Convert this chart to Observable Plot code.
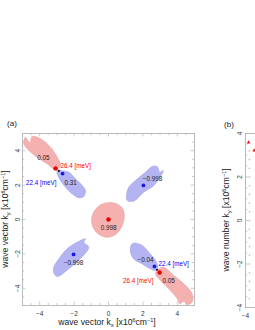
<!DOCTYPE html>
<html><head><meta charset="utf-8">
<script src="https://cdn.jsdelivr.net/npm/d3@7"></script>
<script src="https://cdn.jsdelivr.net/npm/@observablehq/plot@0.6"></script>
<style>
html,body{margin:0;padding:0;background:#fff;overflow:hidden}
#wrap{position:relative;width:255px;height:330px;overflow:hidden;font-family:"Liberation Sans",Arial,sans-serif}
#a{position:absolute;left:0;top:0;width:200px}
#b{position:absolute;left:200px;top:0;width:230px}
#wrap svg{max-width:none !important;display:block}
</style></head><body><div id="wrap"><div id="a"></div><div id="b"></div></div>
<script>
// ---------- data ----------
const majorTicksA = [-4, -2, 0, 2, 4];
const minorTicksA = [-4.5, -3.5, -3, -2.5, -1.5, -1, -0.5, 0.5, 1, 1.5, 2.5, 3, 3.5, 4.5];
const majorTicksB = [-4, -2, 0, 2, 4];
const minorTicksB = [-3.5, -3, -2.5, -1.5, -1, -0.5, 0.5, 1, 1.5, 2.5, 3, 3.5];

// blob outlines [kx, ky]
const blobCenterRed = [[0.0,0.98],[0.45,0.92],[0.82,0.64],[0.92,0.2],[0.82,-0.3],[0.57,-0.72],[0.2,-0.98],[-0.2,-1.02],[-0.62,-0.82],[-0.92,-0.4],[-0.97,0.1],[-0.77,0.57],[-0.4,0.88]];
const blobNEBlue = [[1.09,1.1],[1.47,1.07],[2.05,1.59],[2.64,1.98],[2.93,2.37],[3.12,2.66],[3.18,2.85],[2.98,2.75],[2.83,3.08],[2.54,3.08],[2.15,2.75],[1.57,2.27],[1.18,1.88],[1.05,1.4]];
const blobSWBlue = [[-1.34,-1.12],[-1.44,-1.32],[-1.15,-1.61],[-1.63,-2.27],[-2.2,-2.77],[-2.98,-3.31],[-3.18,-3.1],[-3.18,-2.77],[-2.89,-2.29],[-2.4,-1.7],[-1.82,-1.32]];
const blobULRed = [[-4.92,4.59],[-4.83,4.78],[-4.57,4.46],[-4.44,4.83],[-3.95,4.69],[-3.37,4.2],[-2.98,3.62],[-2.79,3.14],[-3.08,2.9],[-3.57,3.24],[-4.15,3.62],[-4.73,4.11],[-4.92,4.4]];
const blobULBlue = [[-2.98,2.95],[-2.79,2.85],[-2.31,2.75],[-1.92,2.37],[-1.53,1.98],[-1.34,1.69],[-1.44,1.34],[-1.73,1.26],[-2.11,1.49],[-2.5,1.88],[-2.79,2.27],[-2.98,2.66]];
const blobLRBlue = [[1.38,-1.41],[1.57,-1.38],[1.96,-1.51],[2.34,-1.9],[2.73,-2.38],[2.87,-2.77],[2.73,-2.97],[2.44,-2.87],[1.96,-2.58],[1.47,-2.29],[1.28,-1.9],[1.28,-1.61]];
const blobLRRed = [[2.93,-2.87],[3.22,-2.77],[3.8,-3.26],[4.38,-3.74],[4.86,-4.32],[4.86,-4.81],[4.57,-4.94],[4.38,-4.75],[4.15,-4.9],[4.0,-4.61],[3.51,-4.03],[3.02,-3.55],[2.73,-3.16]];

const redDots = [[0,0],[-3.08,2.97],[2.97,-3.08]];
const blueDots = [[2.03,1.98],[-2.03,-2.03],[-2.67,2.67],[2.67,-2.73]];
const blackDots = [[-2.88,2.82],[2.82,-2.92]];

const numLabelText = ["0.998","\u22120.998","\u22120.998","0.05","0.31","\u22120.04","0.05"];
const numLabelX = [0, 2.56, -2.03, -3.78, -2.2, 2.15, 3.49];
const numLabelY = [-0.47, 2.33, -2.5, 3.55, 2.1, -2.38, -3.6];

const energyText = ["26.4 [meV]","22.4 [meV]","22.4 [meV]","26.4 [meV]"];
const energyX = [-2.79, -3.02, 2.9, 2.62];
const energyY = [3.14, 2.15, -2.56, -3.6];
const energyColor = ["red","blue","blue","red"];
const energyAnchor = ["start","end","start","end"];

// panel (b) points
const bRedX = [-3.86, -3.6];
const bRedY = [3.59, 3.22];
const bPinkX = [-3.82,-3.82,-3.82,-3.82,-3.82,-3.82,-3.82,-3.82,-3.82,-3.82,-3.82,-3.82,-3.82,-3.82,-3.82,-3.82,-3.82,-3.82];
const bPinkY = [3.2,2.8,2.4,2.0,1.6,1.2,0.8,0.4,0.0,-0.4,-0.8,-1.2,-1.6,-2.0,-2.4,-2.8,-3.2,-3.6];

// ---------- helpers ----------
const fmt = d => String(d).replace("-", "\u2212");
const FONT = '"Liberation Sans",Arial,sans-serif';
const redFill = "#f5b0b0", redStroke = "#eba0a0";
const blueFill = "#b4b4f2", blueStroke = "#a0a0e8";
const frameC = "#b4b4b4";

function blob(pts, fill, stroke) {
  return Plot.line(pts, {x: d => d[0], y: d => d[1], fill, stroke, strokeWidth: 0.6, curve: "catmull-rom-closed"});
}
function frameTicks(majors, minors, lo, hi, majLen, minLen) {
  const marks = [];
  for (const [arr, len] of [[majors, majLen], [minors, minLen]]) {
    marks.push(Plot.ruleX(arr, {x: d => d, y1: lo, y2: lo + len, stroke: frameC, strokeWidth: 0.7}));
    marks.push(Plot.ruleX(arr, {x: d => d, y1: hi, y2: hi - len, stroke: frameC, strokeWidth: 0.7}));
    marks.push(Plot.ruleY(arr, {y: d => d, x1: lo, x2: lo + len, stroke: frameC, strokeWidth: 0.7}));
    marks.push(Plot.ruleY(arr, {y: d => d, x1: hi, x2: hi - len, stroke: frameC, strokeWidth: 0.7}));
  }
  return marks;
}
function axisTitle(svg, x, y, rotate, prefix, sub) {
  const t = d3.select(svg).append("text")
    .attr("transform", `translate(${x},${y}) rotate(${rotate})`)
    .attr("text-anchor", "middle").attr("font-size", 8.6).attr("fill", "#222")
    .attr("font-family", FONT);
  t.append("tspan").text(prefix + "k");
  t.append("tspan").attr("font-size", 6).attr("dy", 2).text(sub);
  t.append("tspan").attr("dy", -2).text(" [x10");
  t.append("tspan").attr("font-size", 5.5).attr("dy", -3.5).text("6");
  t.append("tspan").attr("dy", 3.5).text("cm");
  t.append("tspan").attr("font-size", 5.5).attr("dy", -3.5).text("\u22121");
  t.append("tspan").attr("dy", 3.5).text("]");
}

// ---------- panel (a) ----------
const pa = Plot.plot({
  width: 200, height: 330,
  marginLeft: 22, marginRight: 6, marginTop: 133, marginBottom: 25,
  x: {domain: [-5, 5], axis: null},
  y: {domain: [-5, 5], axis: null},
  style: {fontFamily: FONT, background: "white"},
  marks: [
    blob(blobCenterRed, redFill, redStroke),
    blob(blobNEBlue, blueFill, blueStroke),
    blob(blobSWBlue, blueFill, blueStroke),
    blob(blobULRed, redFill, redStroke),
    blob(blobULBlue, blueFill, blueStroke),
    blob(blobLRBlue, blueFill, blueStroke),
    blob(blobLRRed, redFill, redStroke),
    Plot.frame({stroke: frameC, strokeWidth: 0.9}),
    ...frameTicks(majorTicksA, minorTicksA, -5, 5, 0.2, 0.12),
    Plot.text(majorTicksA, {x: d => d, y: -5, text: fmt, dy: 8, fontSize: 6.5, fill: "#333"}),
    Plot.text(majorTicksA, {x: -5, y: d => d, text: fmt, dx: -5, rotate: -90, fontSize: 6.5, fill: "#333"}),
    Plot.dot(redDots, {x: d => d[0], y: d => d[1], r: 2.2, fill: "#e60000"}),
    Plot.dot(blueDots, {x: d => d[0], y: d => d[1], r: 1.9, fill: "#1a1ae6"}),
    Plot.dot(blackDots, {x: d => d[0], y: d => d[1], r: 1, fill: "#000"}),
    Plot.text(numLabelText, {x: (d, i) => numLabelX[i], y: (d, i) => numLabelY[i], text: d => d, fontSize: 6.3, fill: "#222"}),
    Plot.text(energyText, {x: (d, i) => energyX[i], y: (d, i) => energyY[i], text: d => d, fontSize: 6.3,
      fill: (d, i) => energyColor[i], textAnchor: "start", filter: (d, i) => energyAnchor[i] === "start"}),
    Plot.text(energyText, {x: (d, i) => energyX[i], y: (d, i) => energyY[i], text: d => d, fontSize: 6.3,
      fill: (d, i) => energyColor[i], textAnchor: "end", filter: (d, i) => energyAnchor[i] === "end"})
  ]
});
document.getElementById("a").appendChild(pa);
axisTitle(pa, 107, 325, 0, "wave vector ", "x");
axisTitle(pa, 8, 219, -90, "wave vector ", "y");
d3.select(pa).append("text").attr("x", 12).attr("y", 126).attr("text-anchor", "middle")
  .attr("font-size", 8).attr("font-family", FONT).attr("fill", "#222").text("(a)");

// ---------- panel (b) ----------
const pb = Plot.plot({
  width: 230, height: 330,
  marginLeft: 45, marginRight: 10, marginTop: 133, marginBottom: 23,
  x: {domain: [-4, 4], axis: null},
  y: {domain: [-4, 4], axis: null},
  style: {fontFamily: FONT, background: "white"},
  marks: [
    Plot.frame({stroke: frameC, strokeWidth: 0.9}),
    ...frameTicks(majorTicksB, minorTicksB, -4, 4, 0.16, 0.1),
    Plot.text(majorTicksB.slice(0, 1), {x: d => d, y: -4, text: fmt, dy: 8, fontSize: 6.5, fill: "#333"}),
    Plot.text(majorTicksB, {x: -4, y: d => d, text: fmt, dx: -6, rotate: -90, fontSize: 6.5, fill: "#333"}),
    Plot.dot(bPinkY, {x: (d, i) => bPinkX[i], y: d => d, r: 0.8, fill: "#f4a0a0"}),
    Plot.dot(bRedY, {x: (d, i) => bRedX[i], y: d => d, r: 1.4, fill: "#ee1111", symbol: "triangle"})
  ]
});
document.getElementById("b").appendChild(pb);
axisTitle(pb, 29, 220, -90, "wave number ", "y");
d3.select(pb).append("text").attr("x", 29).attr("y", 127).attr("text-anchor", "middle")
  .attr("font-size", 8).attr("font-family", FONT).attr("fill", "#222").text("(b)");
</script></body></html>
